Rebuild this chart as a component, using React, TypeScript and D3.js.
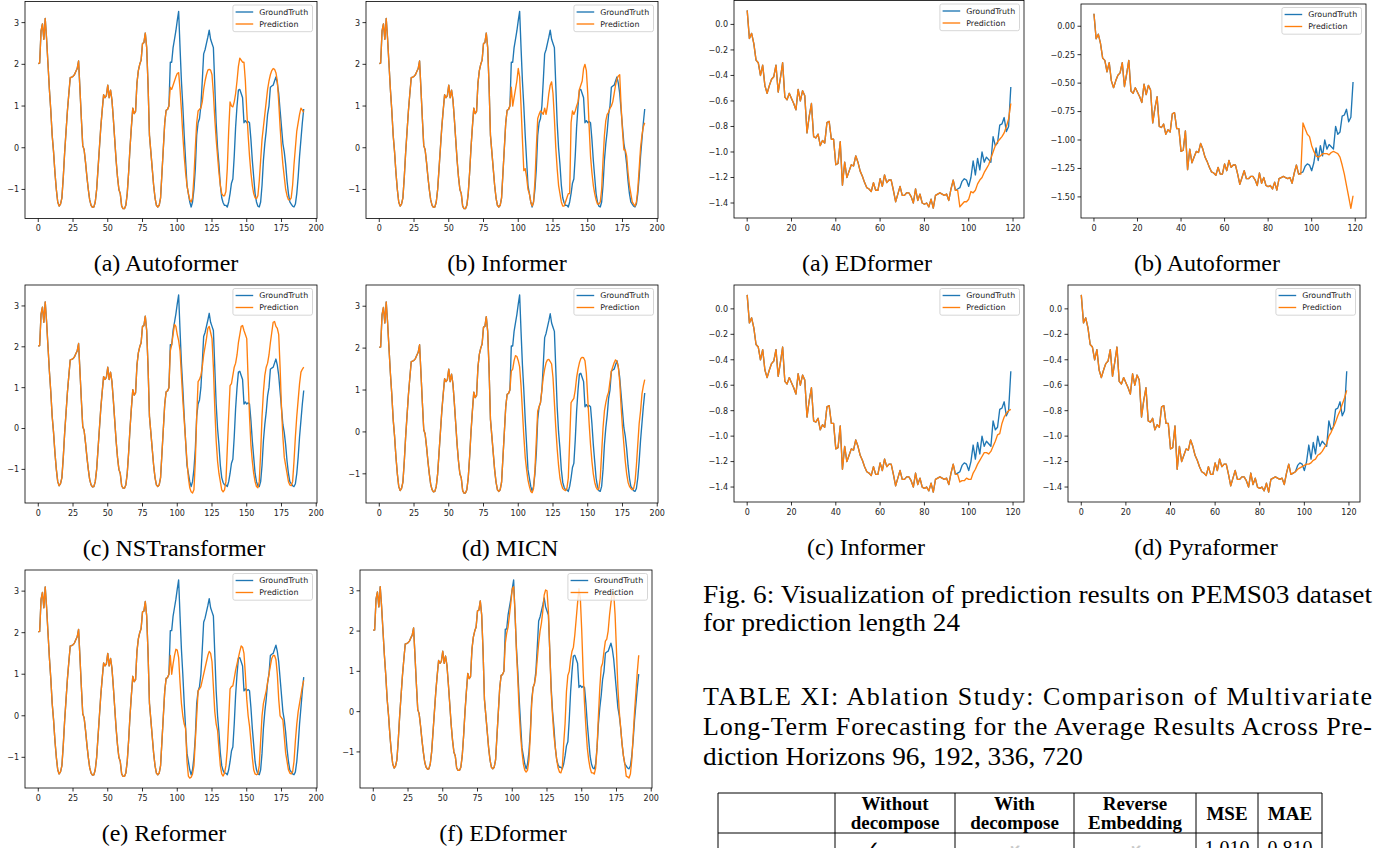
import React from "react";
import * as d3 from "d3";

// ---------------- DATA ----------------
// Left figure (length 192): ground truth
const GT_LEFT: number[] = [
  2.02, 2.03, 2.8, 2.97, 2.6, 3.1, 2.6, 2.0, 1.4, 0.9,
  0.3, -0.1, -0.6, -1.0, -1.3, -1.4, -1.35, -1.2, -0.7, -0.1,
  0.4, 0.9, 1.3, 1.68, 1.69, 1.71, 1.75, 1.83, 1.9, 2.08,
  1.4, 0.7, 0.05, -0.05, -0.35, -0.7, -1.0, -1.25, -1.38, -1.43,
  -1.42, -1.3, -1.0, -0.5, 0.0, 0.5, 0.9, 1.27, 1.2, 1.25,
  1.5, 1.2, 1.38, 1.15, 0.7, 0.2, -0.3, -0.7, -1.0, -1.1,
  -1.4, -1.46, -1.46, -1.38, -1.1, -0.6, 0.0, 0.5, 0.95, 0.82,
  0.87, 1.55, 1.85, 2.0, 2.1, 2.5, 2.52, 2.75, 2.4, 1.5,
  0.3, -0.1, -0.5, -0.9, -1.2, -1.38, -1.42, -1.38, -1.2, -0.6,
  0.0, 0.6, 0.9, 0.92, 1.0, 2.05, 2.05, 2.4, 2.6, 2.8,
  3.05, 3.27, 2.4, 1.6, 1.0, 0.3, -0.3, -0.9, -1.1, -1.3,
  -1.42, -1.3, -1.0, -0.5, 0.3, 0.6, 0.7, 1.0, 1.6, 2.25,
  2.35, 2.5, 2.65, 2.82, 2.6, 2.5, 2.4, 1.5, 0.6, 0.0,
  -0.4, -0.9, -1.2, -1.32, -1.38, -1.38, -1.42, -1.3, -1.1, -0.85,
  -0.75, -0.2, 0.5, 1.0, 1.38, 1.4, 1.3, 1.2, 0.6, 0.65,
  0.6, 0.63, 0.6, 0.2, -0.3, -0.7, -1.1, -1.3, -1.4, -1.42,
  -1.3, -0.9, -0.3, 0.1, 0.4, 0.8, 1.0, 1.45, 1.48, 1.5,
  1.6, 1.7, 1.55, 1.3, 0.9, 0.5, 0.1, -0.1, -0.4, -0.8,
  -1.1, -1.3, -1.35, -1.4, -1.42, -1.35, -1.1, -0.7, -0.2, 0.2,
  0.6, 0.93,
];
const PRED_START_LEFT = 95;
// predictions for steps 95..191
const PRED_AUTOFORMER_L: number[] = [
  1.45, 1.4, 1.5, 1.6, 1.7, 1.78, 1.8, 1.4, 0.9, 0.3,
  -0.2, -0.6, -0.9, -1.1, -1.25, -1.3, -1.2, -0.7, 0.0, 0.6,
  0.88, 0.92, 0.95, 1.1, 1.4, 1.6, 1.75, 1.86, 1.88, 1.86,
  1.75, 1.3, 0.7, 0.2, -0.2, -0.6, -0.9, -1.1, -1.15, -1.15,
  -1.05, -0.5, 0.4, 1.1, 1.0, 0.98, 1.1, 1.3, 1.6, 1.95,
  2.15, 2.1, 2.05, 2.05, 1.6, 0.9, 0.3, -0.2, -0.6, -0.9,
  -1.1, -1.2, -1.22, -1.15, -0.8, -0.3, 0.2, 0.5, 0.8, 1.1,
  1.4, 1.6, 1.75, 1.85, 1.9, 1.88, 1.8, 1.6, 1.1, 0.5,
  0.0, -0.4, -0.7, -1.0, -1.15, -1.25, -1.25, -1.2, -0.9, -0.4,
  0.0, 0.4, 0.6, 0.8, 0.95, 0.9, 0.85,
];
const PRED_INFORMER_L: number[] = [
  1.45, 1.0, 1.2, 1.4, 1.6, 1.9, 1.7, 1.0, 0.2, -0.55,
  -0.5, -0.7, -1.0, -1.1, -1.3, -1.4, -1.3, -0.8, 0.0, 0.7,
  0.8, 0.88, 0.85, 0.8, 0.95, 0.8, 1.0, 1.3, 1.5, 1.58,
  1.3, 0.7, 0.0, -0.5, -0.9, -1.1, -1.3, -1.4, -1.4, -1.3,
  -1.2, -1.1, -1.1, 0.6, 0.88, 0.8, 0.88, 1.0, 1.1, 1.4,
  1.5, 1.6, 1.9, 2.0, 1.85, 1.3, 0.5, -0.2, -0.6, -0.9,
  -1.1, -1.25, -1.35, -1.35, -1.3, -1.0, -0.3, 0.3, 0.65, 0.8,
  0.85, 0.95, 1.0, 1.1, 1.3, 1.5, 1.65, 1.72, 1.75, 1.0,
  0.4, -0.05, -0.05, -0.2, -0.6, -0.9, -1.1, -1.3, -1.35, -1.4,
  -1.3, -1.0, -0.5, 0.0, 0.3, 0.5, 0.6,
];
const PRED_NSTRANSFORMER_L: number[] = [
  1.9, 2.05, 2.3, 2.55, 2.5, 2.3, 2.15, 1.9, 1.3, 0.7,
  0.2, -0.3, -0.8, -1.2, -1.45, -1.55, -1.58, -1.5, -0.8, 0.3,
  1.15, 1.2, 1.3, 1.5, 1.8, 2.0, 2.2, 2.45, 2.5, 2.35,
  2.2, 1.5, 0.5, -0.3, -0.8, -1.1, -1.3, -1.5, -1.55, -1.5,
  -1.3, -0.5, 0.3, 1.05, 1.1, 1.3, 1.5, 1.6, 1.8, 2.1,
  2.3, 2.5, 2.52, 2.4, 2.3, 2.2, 1.2, 0.3, -0.4, -0.8,
  -1.1, -1.3, -1.42, -1.45, -1.3, -0.6, 0.3, 0.9, 1.3, 1.5,
  1.6, 1.8, 2.1, 2.35, 2.6, 2.62, 2.5, 2.45, 2.3, 1.5,
  0.5, -0.2, -0.7, -0.9, -1.1, -1.3, -1.38, -1.4, -1.3, -0.8,
  -0.2, 0.3, 0.7, 1.1, 1.38, 1.45, 1.5,
];
const PRED_MICN_L: number[] = [
  1.45, 1.5, 1.7, 1.82, 1.8, 1.7, 1.55, 1.1, 0.5, -0.1,
  -0.6, -0.9, -1.15, -1.3, -1.42, -1.45, -1.35, -0.9, -0.2, 0.5,
  0.6, 0.7, 1.0, 1.3, 1.5, 1.65, 1.72, 1.73, 1.68, 1.62,
  1.3, 0.7, 0.1, -0.4, -0.8, -1.1, -1.25, -1.35, -1.38, -1.4,
  -1.35, -1.1, -0.2, 0.7, 0.75, 0.8, 1.0, 1.3, 1.5, 1.65,
  1.75, 1.78, 1.77, 1.7, 1.4, 0.8, 0.2, -0.3, -0.7, -1.0,
  -1.2, -1.32, -1.38, -1.35, -1.1, -0.5, 0.1, 0.5, 0.7, 0.85,
  0.95, 1.2, 1.45, 1.55, 1.65, 1.72, 1.68, 1.55, 1.2, 0.6,
  0.1, -0.3, -0.7, -1.0, -1.2, -1.3, -1.35, -1.38, -1.35, -1.2,
  -0.8, -0.3, 0.2, 0.5, 0.9, 1.1, 1.25,
];
const PRED_REFORMER_L: number[] = [
  1.45, 1.0, 1.25, 1.45, 1.6, 1.58, 1.4, 0.8, 0.3, 0.0,
  -0.2, -0.3, -1.1, -1.45, -1.5, -1.48, -1.4, -1.2, -0.6, 0.0,
  0.6, 0.65, 0.7, 0.85, 1.0, 1.15, 1.3, 1.45, 1.55, 1.5,
  1.3, 0.7, 0.1, -0.2, -0.35, -0.8, -1.2, -1.4, -1.45, -1.38,
  -1.2, -0.8, -0.1, 0.65, 0.7, 0.72, 0.9, 1.1, 1.25, 1.4,
  1.55, 1.68, 1.65, 1.5, 1.0, 0.4, 0.0, -0.25, -0.6, -1.0,
  -1.3, -1.4, -1.42, -1.4, -1.2, -0.6, 0.0, 0.3, 0.45, 0.6,
  0.8, 1.0, 1.2, 1.38, 1.45, 1.45, 1.35, 1.0, 0.4, 0.0,
  -0.05, -0.1, -0.5, -0.9, -1.1, -1.3, -1.38, -1.4, -1.35, -1.1,
  -0.6, -0.2, 0.1, 0.3, 0.5, 0.7, 0.85,
];
const PRED_EDFORMER_L: number[] = [
  1.7, 1.95, 2.1, 2.4, 2.7, 3.05, 3.1, 2.5, 1.5, 0.8,
  0.0, -0.6, -1.0, -1.3, -1.45, -1.5, -1.45, -1.2, -0.6, 0.2,
  0.6, 0.7, 0.9, 1.3, 1.7, 2.0, 2.2, 2.5, 2.9, 3.02,
  3.0, 2.5, 1.5, 0.5, -0.1, -0.6, -0.9, -1.2, -1.4, -1.5,
  -1.52, -1.4, -0.8, -0.3, 0.5, 0.9, 1.0, 1.3, 1.5, 1.6,
  1.9, 2.3, 2.7, 3.05, 2.8, 2.0, 1.0, 0.2, -0.4, -0.9,
  -1.2, -1.4, -1.52, -1.52, -1.55, -1.4, -0.9, -0.1, 0.6, 1.1,
  1.2, 1.5, 1.75, 1.8, 2.0, 2.4, 2.7, 2.95, 2.95, 2.4,
  1.5, 0.6, 0.0, -0.4, -0.8, -1.1, -1.3, -1.6, -1.62, -1.65,
  -1.55, -1.2, -0.6, 0.0, 0.5, 1.0, 1.4,
];

// Right figure (PEMS03, length 120): ground truth
const GT_RIGHT: number[] = [
  0.11, -0.11, -0.07, -0.15, -0.28, -0.3, -0.4, -0.32, -0.48, -0.54,
  -0.48, -0.43, -0.41, -0.32, -0.53, -0.42, -0.3, -0.57, -0.59, -0.54,
  -0.58, -0.62, -0.67, -0.51, -0.6, -0.52, -0.56, -0.85, -0.72, -0.62,
  -0.88, -0.89, -0.86, -0.95, -0.91, -0.93, -0.77, -0.76, -0.9, -0.9,
  -1.1, -1.09, -0.92, -1.26, -1.08, -1.2, -1.15, -1.1, -1.11, -1.03,
  -1.08, -1.15, -1.19, -1.24, -1.28, -1.29, -1.31, -1.24, -1.3, -1.3,
  -1.21, -1.27, -1.18, -1.24, -1.22, -1.22, -1.3, -1.39, -1.33, -1.27,
  -1.34, -1.34, -1.32, -1.32, -1.35, -1.4, -1.29, -1.38, -1.33, -1.4,
  -1.41, -1.4, -1.43, -1.37, -1.44, -1.34, -1.33, -1.32, -1.33, -1.34,
  -1.33, -1.38, -1.29, -1.22, -1.3, -1.29, -1.28, -1.23, -1.21, -1.22,
  -1.27, -1.2, -1.07, -1.18, -1.05, -1.14, -1.0, -1.08, -1.04, -1.06,
  -1.08, -0.88, -0.95, -0.93, -0.79, -0.78, -0.73, -0.84, -0.8, -0.49,
];
const PRED_START_RIGHT = 95;
// predictions for steps 95..119
const PRED_EDFORMER_R: number[] = [
  -1.3, -1.43, -1.41, -1.39, -1.39, -1.37, -1.31, -1.32, -1.3, -1.25,
  -1.22, -1.2, -1.16, -1.13, -1.1, -1.05, -1.0, -0.95, -0.92, -0.9,
  -0.88, -0.85, -0.8, -0.74, -0.62,
];
const PRED_AUTOFORMER_R: number[] = [
  -1.3, -0.85, -0.9, -0.95, -0.97, -1.05, -1.1, -1.14, -1.15, -1.14,
  -1.12, -1.12, -1.12, -1.13, -1.11, -1.1, -1.11, -1.12, -1.15, -1.22,
  -1.3, -1.4, -1.5, -1.6, -1.49,
];
const PRED_INFORMER_R: number[] = [
  -1.3, -1.36, -1.35, -1.35, -1.33, -1.34, -1.34, -1.29, -1.26, -1.22,
  -1.19, -1.16, -1.13, -1.13, -1.14, -1.12, -1.08, -1.04, -0.99, -0.98,
  -0.9, -0.85, -0.82, -0.8, -0.79,
];
const PRED_PYRAFORMER_R: number[] = [
  -1.29, -1.28, -1.26, -1.25, -1.24, -1.23, -1.22, -1.22, -1.21, -1.19,
  -1.18, -1.15, -1.14, -1.12, -1.09, -1.06, -1.0, -0.97, -0.93, -0.89,
  -0.84, -0.8, -0.75, -0.7, -0.64,
];

// Tick labels
const X_TICKS_LEFT = [0, 25, 50, 75, 100, 125, 150, 175, 200];
const Y_TICKS_LEFT = [-1, 0, 1, 2, 3];
const X_TICKS_RIGHT = [0, 20, 40, 60, 80, 100, 120];
const Y_TICKS_RIGHT_A = [0, -0.2, -0.4, -0.6, -0.8, -1.0, -1.2, -1.4];
const Y_TICKS_RIGHT_B = [0, -0.25, -0.5, -0.75, -1.0, -1.25, -1.5];
const LEGEND_LABELS = ["GroundTruth", "Prediction"];

// Text
const CAPTIONS_LEFT = ["(a) Autoformer", "(b) Informer", "(c) NSTransformer", "(d) MICN", "(e) Reformer", "(f) EDformer"];
const CAPTIONS_RIGHT = ["(a) EDformer", "(b) Autoformer", "(c) Informer", "(d) Pyraformer"];
const FIG_CAPTION = [
  "Fig. 6: Visualization of prediction results on PEMS03 dataset",
  "for prediction length 24",
];
const TABLE_CAPTION = [
  "TABLE XI: Ablation Study: Comparison of Multivariate",
  "Long-Term Forecasting for the Average Results Across Pre-",
  "diction Horizons 96, 192, 336, 720",
];
const TABLE_HEADERS = [[""], ["Without", "decompose"], ["With", "decompose"], ["Reverse", "Embedding"], ["MSE"], ["MAE"]];
const TABLE_ROW1 = ["", "\u2713", "\u2717", "\u2717", "1.010", "0.810"];

// ---------------- STYLE ----------------
const BLUE = "#1f77b4";
const ORANGE = "#ff7f0e";
const SANS = "'DejaVu Sans', sans-serif";
const SERIF = "'Liberation Serif', 'Times New Roman', serif";

type Spec = {
  frame: [number, number, number, number];
  gt: number[];
  pred: number[];
  start: number;
  xTicks: number[];
  yTicks: number[];
  yDigits: number;
};

const fmtNum = (v: number, digits: number) => {
  const s = Math.abs(v) < 1e-9 ? (0).toFixed(digits) : v.toFixed(digits);
  return s.replace("-", "\u2212");
};

function Panel({ spec }: { spec: Spec }) {
  const { frame, gt, pred, start, xTicks, yTicks, yDigits } = spec;
  const [x0, x1, y0, y1] = frame;
  const n = gt.length;
  const xs = d3.scaleLinear().domain([-0.05 * (n - 1), 1.05 * (n - 1)]).range([x0, x1]);
  const predFull = gt.slice(0, start).concat(pred);
  const all = gt.concat(predFull);
  const lo = d3.min(all) as number;
  const hi = d3.max(all) as number;
  const pad = (hi - lo) * 0.05;
  const ys = d3.scaleLinear().domain([lo - pad, hi + pad]).range([y1, y0]);
  const line = d3
    .line<number>()
    .x((_, i) => xs(i))
    .y((d) => ys(d));
  const lw = 79.6;
  const lh = 26.7;
  const lx = x1 - 4.5 - lw;
  const ly = y0 + 3.5;
  return (
    <g>
      <path d={line(gt) || ""} fill="none" stroke={BLUE} strokeWidth={1.35} strokeLinejoin="round" />
      <path d={line(predFull) || ""} fill="none" stroke={ORANGE} strokeWidth={1.35} strokeLinejoin="round" />
      <rect x={x0} y={y0} width={x1 - x0} height={y1 - y0} fill="none" stroke="#000" strokeWidth={0.8} />
      {xTicks.map((t) => (
        <g key={"x" + t}>
          <line x1={xs(t)} x2={xs(t)} y1={y1} y2={y1 + 3.5} stroke="#000" strokeWidth={0.8} />
          <text x={xs(t)} y={y1 + 12.5} fontSize={8} fontFamily={SANS} textAnchor="middle" fill="#222">
            {t}
          </text>
        </g>
      ))}
      {yTicks.map((t) => (
        <g key={"y" + t}>
          <line x1={x0 - 3.5} x2={x0} y1={ys(t)} y2={ys(t)} stroke="#000" strokeWidth={0.8} />
          <text x={x0 - 6} y={ys(t) + 2.9} fontSize={8} fontFamily={SANS} textAnchor="end" fill="#222">
            {fmtNum(t, yDigits)}
          </text>
        </g>
      ))}
      <rect x={lx} y={ly} width={lw} height={lh} rx={2} fill="#fff" fillOpacity={0.8} stroke="#cccccc" strokeWidth={0.8} />
      {LEGEND_LABELS.map((lab, i) => (
        <g key={lab}>
          <line x1={lx + 2.7} x2={lx + 20.3} y1={ly + 7 + i * 12} y2={ly + 7 + i * 12} stroke={i === 0 ? BLUE : ORANGE} strokeWidth={1.35} />
          <text x={lx + 26.3} y={ly + 7 + i * 12 + 2.8} fontSize={7.9} fontFamily={SANS} fill="#222">
            {lab}
          </text>
        </g>
      ))}
    </g>
  );
}

const LEFT_FRAMES: [number, number, number, number][] = [
  [25, 317, 1.5, 218.5],
  [366, 658, 1.5, 218.5],
  [25, 317, 285, 503],
  [366, 658, 285, 503],
  [25, 317, 570, 788],
  [360, 652, 570, 788],
];
const RIGHT_FRAMES: [number, number, number, number][] = [
  [734, 1024, 0.5, 218],
  [1081, 1366, 4, 218],
  [734, 1024, 285, 502],
  [1068, 1360, 285, 502],
];
const LEFT_PREDS = [PRED_AUTOFORMER_L, PRED_INFORMER_L, PRED_NSTRANSFORMER_L, PRED_MICN_L, PRED_REFORMER_L, PRED_EDFORMER_L];
const RIGHT_PREDS = [PRED_EDFORMER_R, PRED_AUTOFORMER_R, PRED_INFORMER_R, PRED_PYRAFORMER_R];
const LEFT_CAP_POS: [number, number][] = [
  [166, 271], [507, 271], [174, 556], [510, 556], [164, 841], [503, 841],
];
const RIGHT_CAP_POS: [number, number][] = [
  [867, 271], [1207, 271], [866, 555], [1206, 555],
];
const TABLE_COLS = [718, 835, 955, 1074, 1196, 1258, 1322];
const ROW1_X = [776, 872, 1014, 1135, 1227, 1290];

export default function App() {
  const specs: Spec[] = [
    ...LEFT_FRAMES.map((f, i) => ({
      frame: f,
      gt: GT_LEFT,
      pred: LEFT_PREDS[i],
      start: PRED_START_LEFT,
      xTicks: X_TICKS_LEFT,
      yTicks: Y_TICKS_LEFT,
      yDigits: 0,
    })),
    ...RIGHT_FRAMES.map((f, i) => ({
      frame: f,
      gt: GT_RIGHT,
      pred: RIGHT_PREDS[i],
      start: PRED_START_RIGHT,
      xTicks: X_TICKS_RIGHT,
      yTicks: i === 1 ? Y_TICKS_RIGHT_B : Y_TICKS_RIGHT_A,
      yDigits: i === 1 ? 2 : 1,
    })),
  ];
  const tTop = 793;
  const tHead = 833;
  return (
    <svg
      width={1384}
      height={848}
      viewBox="0 0 1384 848"
      style={{ position: "absolute", left: 0, top: 0, display: "block", background: "#fff" }}
    >
      <rect x={0} y={0} width={1384} height={848} fill="#fff" />
      {specs.map((s, i) => (
        <Panel key={i} spec={s} />
      ))}
      {CAPTIONS_LEFT.map((c, i) => (
        <text key={c} x={LEFT_CAP_POS[i][0]} y={LEFT_CAP_POS[i][1]} fontSize={24} fontFamily={SERIF} textAnchor="middle" fill="#000">
          {c}
        </text>
      ))}
      {CAPTIONS_RIGHT.map((c, i) => (
        <text key={c} x={RIGHT_CAP_POS[i][0]} y={RIGHT_CAP_POS[i][1]} fontSize={24} fontFamily={SERIF} textAnchor="middle" fill="#000">
          {c}
        </text>
      ))}
      {/* Figure caption */}
      <text x={703} y={603} fontSize={26} fontFamily={SERIF} textLength={669} lengthAdjust="spacingAndGlyphs">
        {FIG_CAPTION[0]}
      </text>
      <text x={703} y={631} fontSize={26} fontFamily={SERIF} textLength={257} lengthAdjust="spacingAndGlyphs">
        {FIG_CAPTION[1]}
      </text>
      {/* Table caption */}
      <text x={703} y={705} fontSize={26} fontFamily={SERIF} textLength={669} lengthAdjust="spacing">
        {TABLE_CAPTION[0]}
      </text>
      <text x={703} y={735} fontSize={26} fontFamily={SERIF} textLength={669} lengthAdjust="spacing">
        {TABLE_CAPTION[1]}
      </text>
      <text x={703} y={765} fontSize={26} fontFamily={SERIF} textLength={380} lengthAdjust="spacingAndGlyphs">
        {TABLE_CAPTION[2]}
      </text>
      {/* Table */}
      <g stroke="#000" strokeWidth={1}>
        <line x1={TABLE_COLS[0]} x2={TABLE_COLS[6]} y1={tTop} y2={tTop} />
        <line x1={TABLE_COLS[0]} x2={TABLE_COLS[6]} y1={tHead} y2={tHead} />
        {TABLE_COLS.map((c) => (
          <line key={c} x1={c} x2={c} y1={tTop} y2={860} />
        ))}
      </g>
      {TABLE_HEADERS.map((h, i) => {
        const cx = (TABLE_COLS[i] + TABLE_COLS[i + 1]) / 2;
        if (h.length === 2) {
          return (
            <g key={i}>
              <text x={cx} y={810} fontSize={19} fontWeight="bold" fontFamily={SERIF} textAnchor="middle">
                {h[0]}
              </text>
              <text x={cx} y={829} fontSize={19} fontWeight="bold" fontFamily={SERIF} textAnchor="middle">
                {h[1]}
              </text>
            </g>
          );
        }
        return (
          <text key={i} x={cx} y={820} fontSize={19} fontWeight="bold" fontFamily={SERIF} textAnchor="middle">
            {h[0]}
          </text>
        );
      })}
      {TABLE_ROW1.map((v, i) => {
        const gray = v === "\u2717";
        return (
          <text
            key={i}
            x={ROW1_X[i]}
            y={gray ? 860 : 855}
            fontSize={20}
            fontFamily={v === "\u2713" || gray ? SANS : SERIF}
            textAnchor="middle"
            fill={gray ? "#c8c8c8" : "#000"}
          >
            {v}
          </text>
        );
      })}
    </svg>
  );
}
